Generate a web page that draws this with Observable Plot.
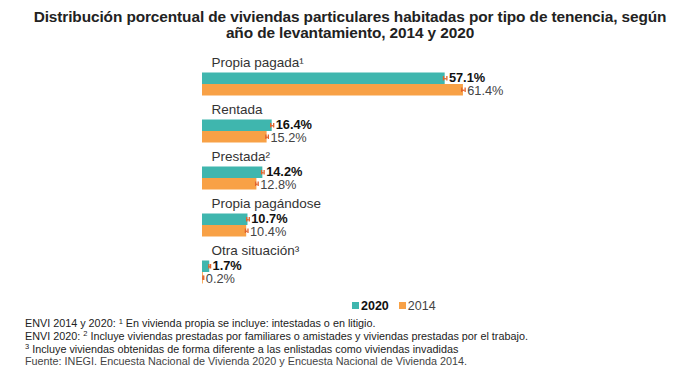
<!DOCTYPE html>
<html>
<head>
<meta charset="utf-8">
<script src="https://cdn.jsdelivr.net/npm/d3@7"></script>
<script src="https://cdn.jsdelivr.net/npm/@observablehq/plot@0.6"></script>
<style>
  body { margin: 0; background: #fff; font-family: "Liberation Sans", Arial, sans-serif; }
  #wrap { width: 700px; height: 390px; position: relative; overflow: hidden; }
  #title { box-sizing: border-box; height: 44px; padding-top: 9px; text-align: center; font-weight: bold; font-size: 15.4px; line-height: 16px; color: #222; letter-spacing: -0.1px; }
  #chart { height: 255px; }
  #legend { height: 14px; padding-left: 352px; font-size: 12.5px; line-height: 14px; color: #222; }
  #legend span.sw { display: inline-block; width: 7px; height: 7px; margin-right: 2px; vertical-align: 1px; }
  #notes { padding-left: 25px; padding-top: 5px; font-size: 10.8px; line-height: 11.8px; color: #222; }
  #notes .sp { font-size: 7.5px; position: relative; top: -3.5px; }
</style>
</head>
<body>
<div id="wrap">
  <div id="title">Distribución porcentual de viviendas particulares habitadas por tipo de tenencia, según<br>año de levantamiento, 2014 y 2020</div>
  <div id="chart"></div>
  <div id="legend"></div>
  <div id="notes">
    <div>ENVI 2014 y 2020: <span class="sp">1</span> En vivienda propia se incluye: intestadas o en litigio.</div>
    <div>ENVI 2020: <span class="sp">2</span> Incluye viviendas prestadas por familiares o amistades y viviendas prestadas por el trabajo.</div>
    <div><span class="sp">3</span> Incluye viviendas obtenidas de forma diferente a las enlistadas como viviendas invadidas</div>
    <div style="color:#444">Fuente: INEGI. Encuesta Nacional de Vivienda 2020 y Encuesta Nacional de Vivienda 2014.</div>
  </div>
</div>
<script>
const categories = ["Propia pagada¹", "Rentada", "Prestada²", "Propia pagándose", "Otra situación³"];
const years = ["2020", "2014"];
const values2020 = [57.1, 16.4, 14.2, 10.7, 1.7];
const values2014 = [61.4, 15.2, 12.8, 10.4, 0.2];
const moe2020 = [0.4, 0.35, 0.3, 0.3, 0.2];
const moe2014 = [0.4, 0.3, 0.3, 0.3, 0.1];
const colors = ["#3fb6ae", "#f8a146"];
const errColor = "#e2622b";

const rows2020 = categories.map((c, i) => ({cat: c, year: "2020", value: values2020[i], moe: moe2020[i]}));
const rows2014 = categories.map((c, i) => ({cat: c, year: "2014", value: values2014[i], moe: moe2014[i]}));

const lo = d => d.value - d.moe;
const hi = d => d.value + d.moe;
const fmt = d => d.value.toFixed(1) + "%";

const chart = Plot.plot({
  width: 700,
  height: 255,
  marginLeft: 202,
  marginRight: 73,
  marginTop: 6,
  marginBottom: 14,
  style: {fontFamily: "'Liberation Sans', Arial, sans-serif", background: "transparent"},
  x: {axis: null, domain: [0, 100]},
  y: {axis: null, domain: categories, padding: 0},
  color: {domain: years, range: colors},
  marks: [
    Plot.barX(rows2020, {x: "value", y: "cat", fill: "year", insetTop: 22.5, insetBottom: 13}),
    Plot.barX(rows2014, {x: "value", y: "cat", fill: "year", insetTop: 34, insetBottom: 1.5}),
    Plot.ruleY(rows2020, {x1: lo, x2: hi, y: "cat", dy: 4.75, stroke: errColor, strokeWidth: 1.3}),
    Plot.ruleY(rows2014, {x1: lo, x2: hi, y: "cat", dy: 16.25, stroke: errColor, strokeWidth: 1.3}),
    Plot.tickX(rows2020, {x: lo, y: "cat", insetTop: 26, insetBottom: 16.5, stroke: errColor, strokeWidth: 1.3}),
    Plot.tickX(rows2020, {x: hi, y: "cat", insetTop: 26, insetBottom: 16.5, stroke: errColor, strokeWidth: 1.3}),
    Plot.tickX(rows2014, {x: lo, y: "cat", insetTop: 37.5, insetBottom: 5, stroke: errColor, strokeWidth: 1.3}),
    Plot.tickX(rows2014, {x: hi, y: "cat", insetTop: 37.5, insetBottom: 5, stroke: errColor, strokeWidth: 1.3}),
    Plot.text(rows2020, {x: hi, y: "cat", text: fmt, dx: 2, dy: 4.25, textAnchor: "start", fontWeight: "bold", fontSize: 12.8, fill: "#111"}),
    Plot.text(rows2014, {x: hi, y: "cat", text: fmt, dx: 2, dy: 17, textAnchor: "start", fontSize: 12.8, fill: "#444"}),
    Plot.text(categories, {y: d => d, text: d => d, frameAnchor: "left", dx: 9, dy: -11.5, textAnchor: "start", fontSize: 13.5, fill: "#333"})
  ]
});
document.getElementById("chart").appendChild(chart);

const legend = document.getElementById("legend");
years.forEach((y, i) => {
  const item = document.createElement("span");
  item.style.marginRight = "10px";
  item.innerHTML = `<span class="sw" style="background:${colors[i]}"></span><span style="font-weight:${i === 0 ? "bold" : "normal"};color:${i === 0 ? "#111" : "#444"}">${y}</span>`;
  legend.appendChild(item);
});
</script>
</body>
</html>
